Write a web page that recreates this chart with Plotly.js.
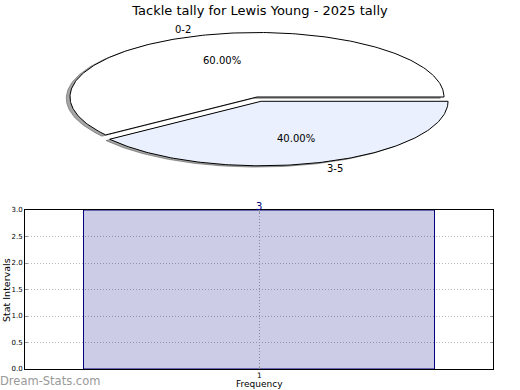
<!DOCTYPE html>
<html><head><meta charset="utf-8">
<script src="https://cdn.plot.ly/plotly-3.0.1.min.js"></script>
<style>html,body{margin:0;padding:0;background:#fff}</style>
</head><body><div id="chart" style="width:520px;height:390px"></div>
<script>
// ---- data ----
const pieLabels = ['0-2', '3-5'];
const pieValues = [60, 40];
const barCategories = [1];
const barValues = [3];
const yTickVals = [0, 0.5, 1, 1.5, 2, 2.5, 3];
const yTickText = ['0.0', '0.5', '1.0', '1.5', '2.0', '2.5', '3.0'];
const titleText = 'Tackle tally for Lewis Young - 2025 tally';

// ---- style / geometry ----
const W = 520, H = 390;
const pieColors = ['#ffffff', '#eaf0fd'];
const pieExplode = [0, 0.07];
const cx = 257, cy = 97, rx = 187, ry = 64.5, pieBottom = 190;
const font = 'DejaVu Sans, sans-serif';

const total = pieValues.reduce((a, b) => a + b, 0);
const shadowTraces = [], sliceTraces = [], annotations = [];
let acc = 0;
pieValues.forEach((v, i) => {
  const a0 = acc / total * 2 * Math.PI, a1 = (acc + v) / total * 2 * Math.PI;
  acc += v;
  const mid = (a0 + a1) / 2;
  const ox = pieExplode[i] * Math.cos(mid), oy = pieExplode[i] * Math.sin(mid);
  const xs = [ox], ys = [oy];
  const n = Math.max(12, Math.ceil((a1 - a0) / (2 * Math.PI) * 360));
  for (let k = 0; k <= n; k++) {
    const a = a0 + (a1 - a0) * k / n;
    xs.push(ox + Math.cos(a)); ys.push(oy + Math.sin(a));
  }
  xs.push(ox); ys.push(oy);
  shadowTraces.push({
    type: 'scatter', mode: 'lines', xaxis: 'x2', yaxis: 'y2',
    x: xs.map(x => x - 0.02), y: ys.map(y => y - 0.02),
    fill: 'toself', fillcolor: 'rgba(77,77,77,0.5)',
    line: {color: 'rgba(77,77,77,0.5)', width: 1}, hoverinfo: 'skip', showlegend: false
  });
  sliceTraces.push({
    type: 'scatter', mode: 'lines', xaxis: 'x2', yaxis: 'y2',
    x: xs, y: ys, fill: 'toself', fillcolor: pieColors[i],
    line: {color: '#000', width: 1}, hoverinfo: 'skip', showlegend: false
  });
  annotations.push({
    xref: 'x2', yref: 'y2', x: ox + 1.1 * Math.cos(mid), y: oy + 1.1 * Math.sin(mid),
    text: pieLabels[i], showarrow: false,
    xanchor: Math.cos(mid) < 0 ? 'right' : 'left', yanchor: 'middle',
    font: {family: font, size: 10, color: '#000'}
  });
  annotations.push({
    xref: 'x2', yref: 'y2', x: ox + 0.6 * Math.cos(mid), y: oy + 0.6 * Math.sin(mid),
    text: (v / total * 100).toFixed(2) + '%', showarrow: false,
    xanchor: 'center', yanchor: 'middle',
    font: {family: font, size: 10, color: '#000'}
  });
});

const barTrace = {
  type: 'bar', x: barCategories, y: barValues, width: 0.75,
  marker: {color: 'rgba(0,0,128,0.2)', line: {color: '#000080', width: 1}},
  hoverinfo: 'skip', showlegend: false
};

barCategories.forEach((c, i) => {
  annotations.push({
    xref: 'x', yref: 'y', x: c, y: barValues[i], text: String(barValues[i]),
    showarrow: false, xanchor: 'center', yanchor: 'bottom', yshift: -4,
    font: {family: font, size: 10, color: '#000080'}
  });
  // x tick label
  annotations.push({
    xref: 'x', yref: 'paper', x: c, y: 1 - 369 / H, text: String(c), borderpad: 0,
    showarrow: false, xanchor: 'center', yanchor: 'top', yshift: -0.5,
    font: {family: font, size: 7.5, color: '#000'}
  });
});

annotations.push(
  {xref: 'paper', yref: 'paper', x: 6 / W, y: 1 - 290 / H, text: 'Stat Intervals', textangle: -90,
   showarrow: false, xanchor: 'center', yanchor: 'middle', font: {family: font, size: 9.5, color: '#000'}},
  {xref: 'paper', yref: 'paper', x: 259 / W, y: 0, text: 'Frequency', borderpad: 0,
   showarrow: false, xanchor: 'center', yanchor: 'bottom', font: {family: font, size: 9, color: '#000'}},
  {xref: 'paper', yref: 'paper', x: 0, y: 1 - 380.5 / H, text: 'Dream-Stats.com',
   showarrow: false, xanchor: 'left', yanchor: 'middle', xshift: -2,
   font: {family: font, size: 11.5, color: '#999999'}}
);

const layout = {
  width: W, height: H,
  margin: {l: 0, r: 0, t: 0, b: 0},
  paper_bgcolor: '#fff', plot_bgcolor: 'rgba(0,0,0,0)',
  title: {text: titleText, x: 0.5, xanchor: 'center', y: 1 - 10 / H, yanchor: 'middle',
          font: {family: font, size: 13, color: '#000'}},
  showlegend: false,
  xaxis: {
    domain: [25 / W, 493 / W], range: [0.5, 1.5], tickvals: barCategories, showticklabels: false,
    showgrid: true, gridcolor: '#a8a8a8', griddash: '1px,2px', gridwidth: 1, zeroline: false,
    showline: true, mirror: 'ticks', linecolor: '#000', linewidth: 1,
    ticks: 'inside', ticklen: 3, tickcolor: '#999',
    fixedrange: true
  },
  yaxis: {
    domain: [1 - 369 / H, 1 - 210 / H], range: [0, 3], tickvals: yTickVals, ticktext: yTickText,
    showgrid: true, gridcolor: '#b8b8b8', griddash: '1px,2px', gridwidth: 1, zeroline: false,
    showline: true, mirror: 'ticks', linecolor: '#000', linewidth: 1,
    ticks: 'inside', ticklen: 3, tickcolor: '#999', tickfont: {family: font, size: 7, color: '#000'},
    fixedrange: true
  },
  xaxis2: {domain: [0, 1], range: [-cx / rx, (W - cx) / rx], visible: false, fixedrange: true, anchor: 'y2'},
  yaxis2: {domain: [1 - pieBottom / H, 1], range: [(cy - pieBottom) / ry, cy / ry], visible: false, fixedrange: true, anchor: 'x2'},
  annotations: annotations
};

Plotly.newPlot('chart', [barTrace, ...shadowTraces, ...sliceTraces], layout, {staticPlot: true, displayModeBar: false});
</script>
</body></html>
